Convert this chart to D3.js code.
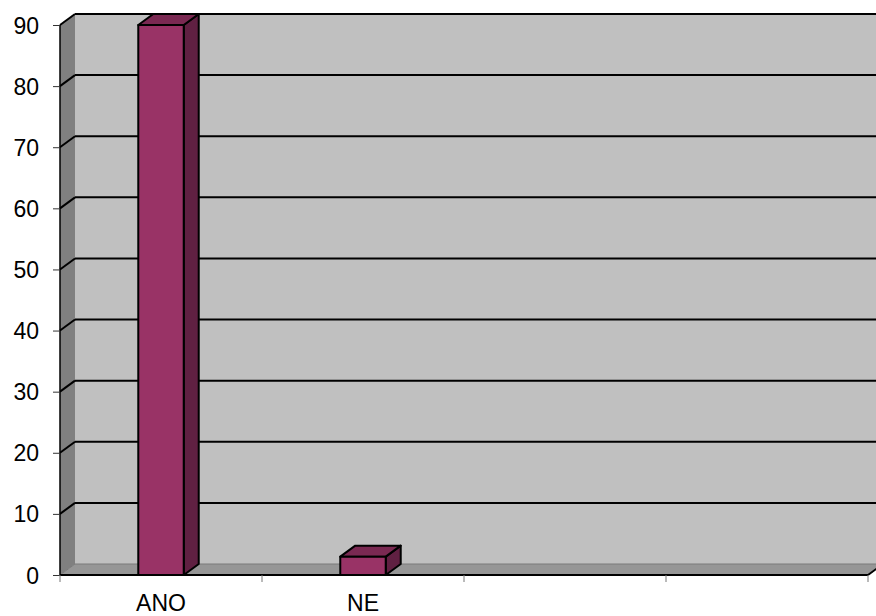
<!DOCTYPE html>
<html>
<head>
<meta charset="utf-8">
<script src="https://cdn.jsdelivr.net/npm/d3@7"></script>
<style>
  html, body { margin: 0; padding: 0; background: #fff; }
  svg { display: block; }
  text { font-family: "Liberation Sans", Arial, sans-serif; fill: #000; }
</style>
</head>
<body>
<svg id="chart" width="876" height="616"></svg>
<script>
// ---- data ----
const categories = ["ANO", "NE", "", ""];
const values = [90, 3, null, null];
const yTicks = [0, 10, 20, 30, 40, 50, 60, 70, 80, 90];

// ---- layout ----
const W = 876, H = 616;
const plotLeft = 60, plotRight = 868, plotBottom = 575, plotTop = 25;
const depthX = 15, depthY = -11;

const svg = d3.select("#chart");

const x = d3.scaleBand().domain(d3.range(categories.length)).range([plotLeft, plotRight]).padding(0);
const y = d3.scaleLinear().domain([0, 90]).range([plotBottom, plotTop]);
const barW = x.bandwidth() * 0.225;

const y0 = y(0), yMax = y(90);

// back wall
svg.append("polygon")
  .attr("points", [[plotLeft + depthX, yMax + depthY], [W + 20, yMax + depthY], [W + 20, y0 + depthY], [plotLeft + depthX, y0 + depthY]].join(" "))
  .attr("fill", "#c0c0c0");

// side wall
svg.append("polygon")
  .attr("points", [[plotLeft, yMax], [plotLeft + depthX, yMax + depthY], [plotLeft + depthX, y0 + depthY], [plotLeft, y0]].join(" "))
  .attr("fill", "#808080");

// floor
svg.append("polygon")
  .attr("points", [[plotLeft, y0], [plotLeft + depthX, y0 + depthY], [plotRight + depthX, y0 + depthY], [plotRight, y0]].join(" "))
  .attr("fill", "#969696")
  .attr("stroke", "#7a7a7a").attr("stroke-width", 1);

// gridlines (back wall + side wall)
const grid = svg.append("g");
yTicks.filter(t => t > 0).forEach(t => {
  const yy = y(t);
  grid.append("line")
    .attr("x1", plotLeft + depthX).attr("x2", W + 20)
    .attr("y1", yy + depthY).attr("y2", yy + depthY)
    .attr("stroke", "#000").attr("stroke-width", 2);
  grid.append("line")
    .attr("x1", plotLeft).attr("x2", plotLeft + depthX)
    .attr("y1", yy).attr("y2", yy + depthY)
    .attr("stroke", "#000").attr("stroke-width", 2);
});

// bars
const bars = svg.append("g");
values.forEach((v, i) => {
  if (v == null) return;
  const bx = x(i) + (x.bandwidth() - barW) / 2;
  const by = y(v);
  const g = bars.append("g").attr("stroke", "#000").attr("stroke-width", 2).attr("stroke-linejoin", "round");
  g.append("polygon")
    .attr("points", [[bx + barW, by], [bx + barW + depthX, by + depthY], [bx + barW + depthX, y0 + depthY], [bx + barW, y0]].join(" "))
    .attr("fill", "#602042");
  g.append("polygon")
    .attr("points", [[bx, by], [bx + depthX, by + depthY], [bx + barW + depthX, by + depthY], [bx + barW, by]].join(" "))
    .attr("fill", "#7a2952");
  g.append("rect")
    .attr("x", bx).attr("y", by).attr("width", barW).attr("height", y0 - by)
    .attr("fill", "#993366");
});

// y axis line + ticks
svg.append("line").attr("x1", plotLeft).attr("x2", plotLeft).attr("y1", yMax).attr("y2", y0)
  .attr("stroke", "#000").attr("stroke-width", 1.5);
const yAxis = svg.append("g").attr("transform", `translate(${plotLeft},0)`)
  .call(d3.axisLeft(y).tickValues(yTicks).tickSize(7).tickPadding(14));
yAxis.select(".domain").remove();
yAxis.selectAll(".tick line").attr("stroke", "#333").attr("stroke-width", 1);
yAxis.selectAll(".tick text").style("font-size", "23px").attr("dy", "0.35em");

// x axis line (front floor edge) + right diagonal
svg.append("line").attr("x1", plotLeft).attr("x2", plotRight).attr("y1", y0).attr("y2", y0)
  .attr("stroke", "#000").attr("stroke-width", 2);
svg.append("line").attr("x1", plotRight).attr("x2", plotRight + depthX).attr("y1", y0).attr("y2", y0 + depthY)
  .attr("stroke", "#000").attr("stroke-width", 2);

// x ticks at band boundaries
const edges = d3.range(categories.length + 1).map(i => i < categories.length ? x(i) : plotRight);
svg.append("g").selectAll("line").data(edges).join("line")
  .attr("x1", d => d).attr("x2", d => d).attr("y1", y0).attr("y2", y0 + 7)
  .attr("stroke", "#777").attr("stroke-width", 1);

// x labels
const xAxis = svg.append("g").attr("transform", `translate(0,${y0})`)
  .call(d3.axisBottom(x).tickSize(0).tickPadding(20).tickFormat(i => categories[i]));
xAxis.select(".domain").remove();
xAxis.selectAll(".tick text").style("font-size", "23px");
</script>
</body>
</html>
